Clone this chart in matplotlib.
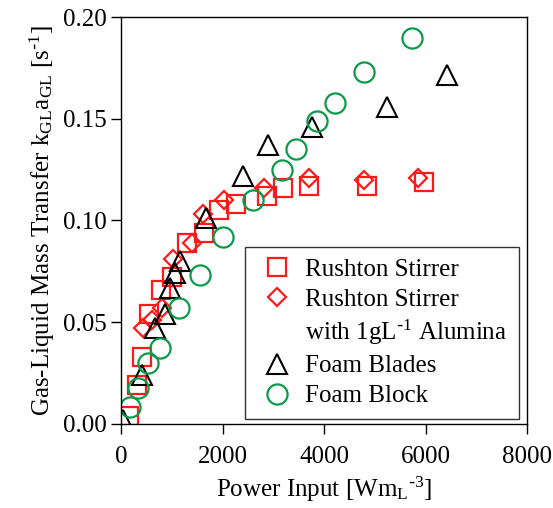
import matplotlib
matplotlib.use('Agg')
import matplotlib.pyplot as plt
from matplotlib.lines import Line2D

plt.rcParams['font.family'] = ['Liberation Serif', 'DejaVu Serif']
plt.rcParams['mathtext.default'] = 'regular'

# Rushton stirrer
rush_p = [150, 310, 410, 550, 790, 1000, 1300, 1630, 1930, 2270, 2880, 3190, 3710, 4840, 5970]
rush_k = [0.004, 0.019, 0.033, 0.054, 0.066, 0.072, 0.089, 0.094, 0.105, 0.108, 0.112, 0.116, 0.117, 0.117, 0.119]

# Rushton stirrer with alumina
alum_p = [440, 610, 810, 1030, 1390, 1620, 2030, 2820, 3700, 4790, 5850]
alum_k = [0.047, 0.051, 0.057, 0.081, 0.089, 0.103, 0.110, 0.116, 0.121, 0.120, 0.121]

# Foam blades
blade_p = [40, 420, 670, 870, 970, 1070, 1170, 1680, 2400, 2900, 3760, 5240, 6420]
blade_k = [0.002, 0.024, 0.047, 0.054, 0.067, 0.074, 0.080, 0.101, 0.122, 0.137, 0.146, 0.156, 0.1715]

# Foam block
block_p = [180, 335, 535, 770, 1140, 1557, 2010, 2600, 3172, 3448, 3862, 4217, 4788, 5734]
block_k = [0.0084, 0.0177, 0.030, 0.0375, 0.057, 0.073, 0.092, 0.110, 0.1248, 0.135, 0.149, 0.1577, 0.173, 0.1897]

red = '#ff1a1a'
green = '#0a9a4a'
fs = 18

fig = plt.figure(figsize=(5.53, 5.08), dpi=100)
ax = fig.add_axes([0.219, 0.1654, 0.734, 0.8011])

ax.plot(rush_p, rush_k, 's', ms=13, mfc='none', mec=red, mew=1.6, label='Rushton Stirrer')
ax.plot(alum_p, alum_k, 'D', ms=9, mfc='none', mec=red, mew=1.6, label='Rushton Stirrer')
ax.plot(blade_p, blade_k, '^', ms=14, mfc='none', mec='black', mew=1.5, label='Foam Blades')
ax.plot(block_p, block_k, 'o', ms=14.5, mfc='none', mec=green, mew=1.6, label='Foam Block')

ax.set_xlim(0, 8000)
ax.set_ylim(0, 0.20)
ax.set_xticks([0, 2000, 4000, 6000, 8000])
ax.set_yticks([0.00, 0.05, 0.10, 0.15, 0.20])
ax.set_yticklabels(['0.00', '0.05', '0.10', '0.15', '0.20'])
ax.tick_params(direction='out', length=7, width=1, labelsize=fs, top=False, right=False)
ax.tick_params(axis='x', pad=9)
for s in ax.spines.values():
    s.set_linewidth(1)

ax.set_xlabel('Power Input [Wm$_L$$^{\\text{-}3}$]', fontsize=fs, labelpad=5)
ax.set_ylabel('Gas-Liquid Mass Transfer k$_{GL}$a$_{GL}$ [s$^{\\text{-}1}$]', fontsize=fs, labelpad=4)

handles, labels = ax.get_legend_handles_labels()
blank = Line2D([], [], linestyle='none', marker=None)
handles = handles[:2] + [blank] + handles[2:]
labels = labels[:2] + ['with 1gL$^{\\text{-}1}$ Alumina'] + labels[2:]
leg = ax.legend(handles, labels, loc='lower right', bbox_to_anchor=(0.98, 0.013),
                fontsize=fs, frameon=True, fancybox=False, edgecolor='black',
                handletextpad=0.35, handlelength=1.6, labelspacing=0.3, borderpad=0.45,
                borderaxespad=0)
leg.get_frame().set_linewidth(1)

fig.savefig('out.png', dpi=100)
